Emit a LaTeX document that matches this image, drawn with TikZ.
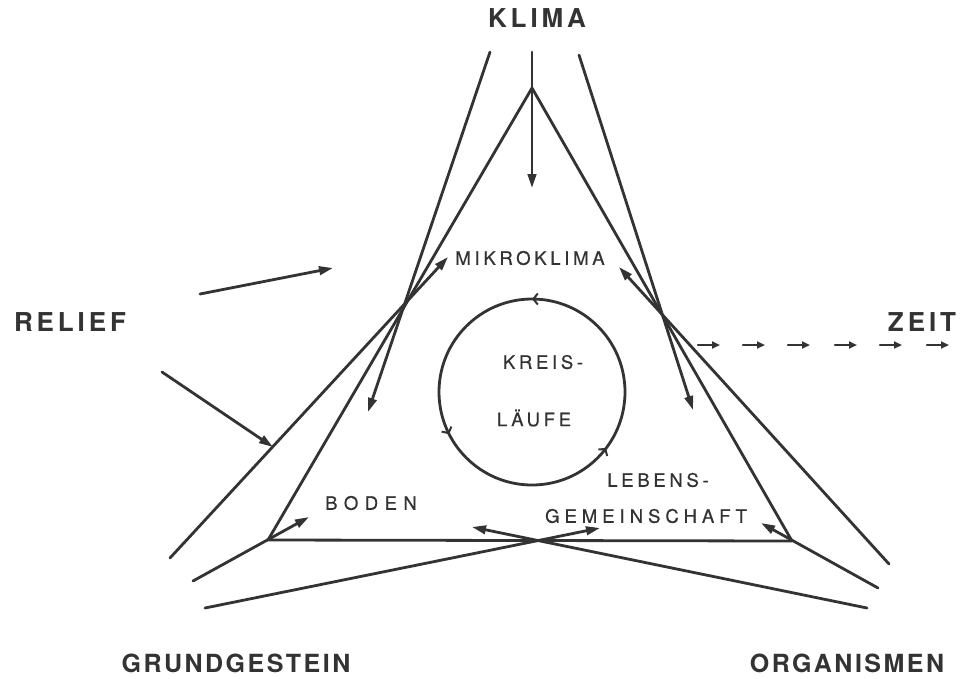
\documentclass[tikz,border=0pt]{standalone}
\usepackage{fontspec}
\setmainfont{TeX Gyre Heros}
\usetikzlibrary{arrows.meta,decorations.markings}
\definecolor{ink}{HTML}{333333}
\begin{document}
\begin{tikzpicture}[x=1pt,y=-1pt,
  ln/.style={draw=ink,line width=2.8pt,line cap=round},
  arr/.style={ln,-{Triangle[length=14pt,width=8.5pt]}},
  sarr/.style={ln,line width=2.4pt,-{Triangle[length=8pt,width=7pt]}},
  big/.style={font=\fontsize{26}{26}\selectfont\bfseries\addfontfeatures{LetterSpace=15},text=ink,inner sep=0pt},
  bigb/.style={font=\fontsize{25}{25}\selectfont\bfseries\addfontfeatures{LetterSpace=10},text=ink,inner sep=0pt},
  lab/.style={font=\fontsize{18.5}{18.5}\selectfont\addfontfeatures{LetterSpace=20,FakeBold=0.6},text=ink,inner sep=0pt},
  labw/.style={font=\fontsize{18.5}{18.5}\selectfont\addfontfeatures{LetterSpace=35,FakeBold=0.6},text=ink,inner sep=0pt},
  labg/.style={font=\fontsize{18.5}{18.5}\selectfont\addfontfeatures{LetterSpace=27,FakeBold=0.6},text=ink,inner sep=0pt}
]
\fill[white] (0,0) rectangle (966,678);
\useasboundingbox (0,0) rectangle (966,678);

% triangle
\coordinate (T) at (532,88);
\coordinate (BL) at (268,540);
\coordinate (BR) at (792,541);
\draw[ln,line join=round] (T) -- (BL) -- (BR) -- cycle;

% end points
\coordinate (kt) at (532,52);   \coordinate (kh) at (532,188);
\coordinate (tl) at (490,52);   \coordinate (tlh) at (368,412);
\coordinate (tr) at (579,55);   \coordinate (trh) at (693,410);
\coordinate (ll) at (170,558);  \coordinate (llh) at (448,257);
\coordinate (rl) at (889,564);  \coordinate (rlh) at (619,267);
\coordinate (bl) at (193,581);  \coordinate (blh) at (309,517);
\coordinate (br) at (878,588);  \coordinate (brh) at (761,523);
\coordinate (gl) at (205,608);  \coordinate (glh) at (600,528);
\coordinate (gr) at (867,608);  \coordinate (grh) at (472,527);
\coordinate (r1) at (200,294);  \coordinate (r1h) at (333,268);
\coordinate (r2) at (162,372);  \coordinate (r2h) at (273,447);

\draw[arr] (kt) -- (kh);
\draw[arr] (tl) -- (tlh);
\draw[arr] (tr) -- (trh);
\draw[arr] (ll) -- (llh);
\draw[arr] (rl) -- (rlh);
\draw[arr] (bl) -- (blh);
\draw[arr] (br) -- (brh);
\draw[arr] (gl) -- (glh);
\draw[arr] (gr) -- (grh);
\draw[arr] (r1) -- (r1h);
\draw[arr] (r2) -- (r2h);

% Zeit
\foreach \x in {698,743,788,835,880,927}{
  \coordinate (z\x) at (\x,345);
  \draw[sarr] (z\x) -- ++(22,0);
}

% circle of Kreislaeufe
\draw[ln,postaction=decorate,decoration={markings,
   mark=at position 0.25 with {\arrow{Straight Barb[length=4.5pt,width=11pt,line width=2pt]}},
   mark=at position 0.575 with {\arrow{Straight Barb[length=4.5pt,width=11pt,line width=2pt]}},
   mark=at position 0.897 with {\arrow{Straight Barb[length=4.5pt,width=11pt,line width=2pt]}}}]
   (625,392) arc[start angle=0,end angle=-360,radius=93];

% labels
\node[big] (klima) at (537,18) {KLIMA};
\node[big] (relief) at (70,322) {RELIEF};
\node[big] (zeit) at (922,322) {ZEIT};
\node[bigb] (grund) at (236,663) {GRUNDGESTEIN};
\node[bigb] (org) at (847,663) {ORGANISMEN};

\node[lab] (mikro) at (530,258) {MIKROKLIMA};
\node[lab] (kreis) at (543,362) {KREIS-};
\node[lab] (laufe) at (534,418) {LÄUFE};
\node[labw] (boden) at (371,503) {BODEN};
\node[lab] (lebens) at (658,480) {LEBENS-};
\node[labg] (gemein) at (646,516) {GEMEINSCHAFT};
\end{tikzpicture}
\end{document}
